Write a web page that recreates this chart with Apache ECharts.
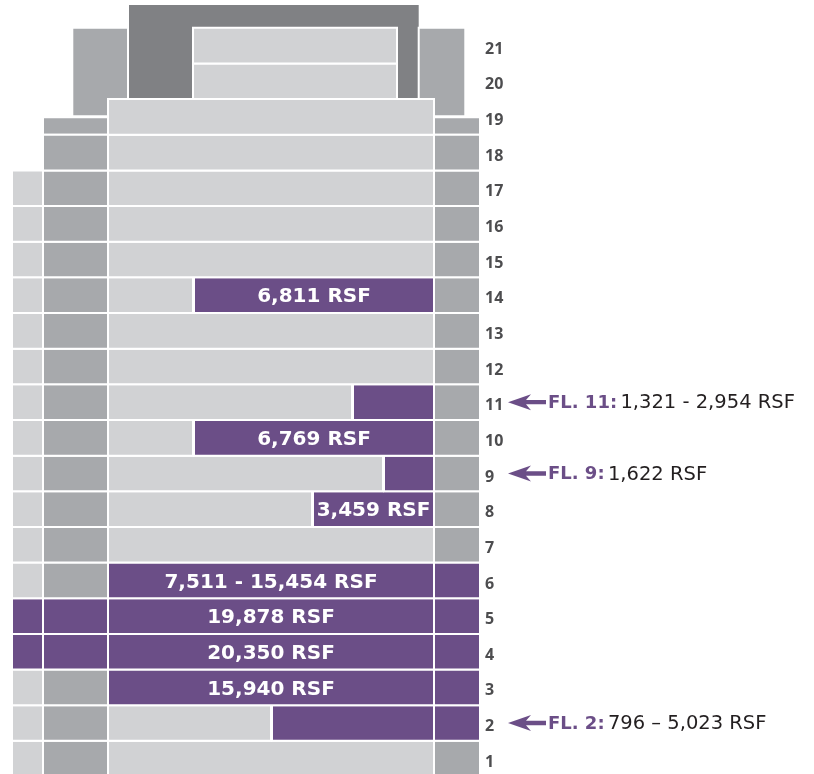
<!DOCTYPE html>
<html>
<head>
<meta charset="utf-8">
<script src="https://cdn.jsdelivr.net/npm/echarts@6/dist/echarts.min.js"></script>
<style>
html, body { margin: 0; padding: 0; background: #fff; }
#main { width: 814px; height: 774px; }
</style>
</head>
<body>
<div id="main"></div>
<script>
// floors, bottom to top
var floors = [1, 2, 3, 4, 5, 6, 7, 8, 9, 10, 11, 12, 13, 14, 15, 16, 17, 18, 19, 20, 21];
// wings per floor: L = light, M = mid grey, P = available, '' = none
var wingOuter = ['L', 'L', 'L', 'P', 'P', 'L', 'L', 'L', 'L', 'L', 'L', 'L', 'L', 'L', 'L', 'L', 'L', '', '', '', ''];
var wingInner = ['M', 'M', 'M', 'P', 'P', 'M', 'M', 'M', 'M', 'M', 'M', 'M', 'M', 'M', 'M', 'M', 'M', 'M', '', '', ''];
var wingRight = ['M', 'P', 'P', 'P', 'P', 'P', 'M', 'M', 'M', 'M', 'M', 'M', 'M', 'M', 'M', 'M', 'M', 'M', '', '', ''];
// where the available space starts in the floor plate (plan units), null = fully leased
var availStart = [null, 272, 108, 108, 108, 108, null, 313, 384, 194, 353, null, null, 194, null, null, null, null, null, null, null];
var availLabel = ['', '', '15,940 RSF', '20,350 RSF', '19,878 RSF', '7,511 - 15,454 RSF', '', '3,459 RSF', '', '6,769 RSF', '', '', '', '6,811 RSF', '', '', '', '', '', '', ''];
// callouts on the right
var calloutFloor = [11, 9, 2];
var calloutTitle = ['FL. 11:', 'FL. 9:', 'FL. 2:'];
var calloutText = ['1,321 - 2,954 RSF', '1,622 RSF', '796 \u2013 5,023 RSF'];

var colors = {
    L: '#d1d2d4',
    M: '#a7a9ac',
    D: '#808184',
    P: '#6b4e87'
};

// plan layout (x in plan units)
var colOuter = [12, 43];
var colInner = [43, 108];
var colCore = [108, 434];
var colRight = [434, 480];

var rects = [];
function addRect(x, y0, y1, fill, label) {
    rects.push({ x0: x[0], x1: x[1], y0: y0, y1: y1, fill: fill, label: label || '' });
}

// crown above floor 19
addRect([128, 419.7], 19, 21.67, 'D');
addRect([72.3, 128], 18.52, 21, 'M');
addRect([418.7, 465.3], 18.52, 21, 'M');
addRect([43, 108], 18, 18.49, 'M');
addRect([434, 480], 18, 18.49, 'M');

floors.forEach(function (f, i) {
    var y0 = f - 1, y1 = f;
    if (wingOuter[i]) addRect(colOuter, y0, y1, wingOuter[i]);
    if (wingInner[i]) addRect(colInner, y0, y1, wingInner[i]);
    if (wingRight[i]) addRect(colRight, y0, y1, wingRight[i]);
    if (f >= 20) {
        addRect([193, 397], y0, y1, 'L');
        return;
    }
    var a = availStart[i];
    if (a == null) {
        addRect(colCore, y0, y1, 'L');
    } else {
        if (a > colCore[0]) addRect([colCore[0], a - 1], y0, y1, 'L');
        addRect([a, colCore[1]], y0, y1, 'P', availLabel[i]);
    }
});

var myChart = echarts.init(document.getElementById('main'));

function renderBlock(params, api) {
    var r = rects[params.dataIndex];
    var p0 = api.coord([r.x0, r.y1]);
    var p1 = api.coord([r.x1, r.y0]);
    var el = {
        type: 'rect',
        shape: { x: p0[0], y: p0[1], width: p1[0] - p0[0], height: p1[1] - p0[1] },
        style: { fill: colors[r.fill], stroke: '#fff', lineWidth: 2 }
    };
    if (r.label) {
        el.textContent = {
            style: {
                text: r.label,
                fill: '#fff',
                fontSize: 20,
                fontWeight: 'bold',
                fontFamily: 'DejaVu Sans'
            }
        };
        el.textConfig = { position: 'inside', offset: [0, 2] };
    }
    return el;
}

function renderCallout(params, api) {
    var i = params.dataIndex;
    var c = api.coord([508, calloutFloor[i] - 0.5]);
    var x = c[0], y = c[1];
    return {
        type: 'group',
        children: [{
            type: 'polygon',
            shape: {
                points: [
                    [x, y], [x + 23, y - 8], [x + 18, y - 2.2], [x + 38, y - 2.2],
                    [x + 38, y + 2.2], [x + 18, y + 2.2], [x + 23, y + 8]
                ]
            },
            style: { fill: colors.P }
        }, {
            type: 'text',
            x: x + 40,
            y: y + 1,
            style: {
                text: '{t|' + calloutTitle[i] + '} {v|' + calloutText[i] + '}',
                verticalAlign: 'middle',
                rich: {
                    t: { fontSize: 18, fontWeight: 'bold', fontFamily: 'DejaVu Sans', fill: colors.P },
                    v: { fontSize: 19.5, fontFamily: 'DejaVu Sans', fill: '#231f20' }
                }
            }
        }]
    };
}

var option = {
    animation: false,
    grid: { left: 0, right: 0, top: 0, bottom: 0, outerBoundsMode: 'none' },
    xAxis: { type: 'value', min: 0, max: 814, show: false },
    yAxis: {
        type: 'value',
        min: 0.07,
        max: 21.78,
        position: 'right',
        offset: -334,
        splitLine: { show: false },
        axisLine: { show: false },
        axisTick: { show: false },
        axisLabel: {
            customValues: floors.map(function (f) { return f - 0.6; }),
            formatter: function (v) { return String(Math.round(v + 0.6)); },
            margin: 5,
            fontSize: 16,
            fontWeight: 'bold',
            fontFamily: 'Open Sans',
            color: '#4d4d4f'
        }
    },
    series: [{
        type: 'custom',
        renderItem: renderBlock,
        data: rects.map(function (r) { return [r.x0, r.x1, r.y0, r.y1]; }),
        encode: { x: [0, 1], y: [2, 3] },
        silent: true
    }, {
        type: 'custom',
        renderItem: renderCallout,
        data: calloutFloor.map(function (f) { return [508, f - 0.5]; }),
        encode: { x: 0, y: 1 },
        silent: true
    }]
};

myChart.setOption(option);
</script>
</body>
</html>
